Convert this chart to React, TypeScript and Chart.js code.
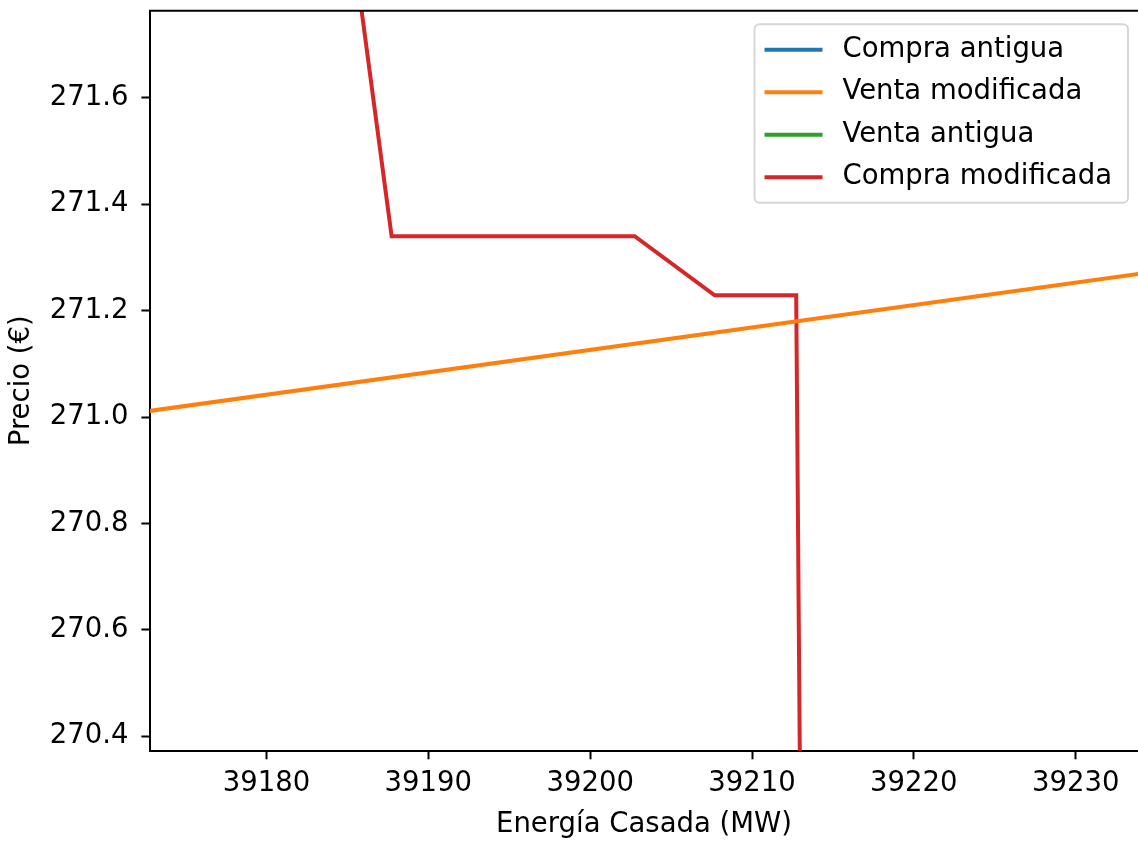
import React, { useEffect, useRef } from "react";
import { Chart, registerables } from "chart.js";

Chart.register(...registerables);

// ---- data ----
const seriesNames = ["Compra antigua", "Venta modificada", "Venta antigua", "Compra modificada"];
const seriesColors = ["#1f77b4", "#ff7f0e", "#2ca02c", "#d62728"];

const compraAntiguaX: number[] = [];
const compraAntiguaY: number[] = [];

const ventaModX = [39170, 39240];
const ventaModY = [271.0, 271.295];

const ventaAntiguaX: number[] = [];
const ventaAntiguaY: number[] = [];

const compraModX = [39185.28, 39187.73, 39202.75, 39207.69, 39212.73, 39212.97];
const compraModY = [271.9, 271.34, 271.34, 271.229, 271.229, 270.3];

const xTicks = [39180, 39190, 39200, 39210, 39220, 39230];
const yTicks = [270.4, 270.6, 270.8, 271.0, 271.2, 271.4, 271.6];

const xMin = 39172.8;
const xMax = 39233.85;
const yMin = 270.373;
const yMax = 271.764;

const xTitle = "Energía Casada (MW)";
const yTitle = "Precio (€)";

const FONT_FAMILY = '"DejaVu Sans", "Noto Sans", sans-serif';
const FONT_SIZE = 27.5;
const LINE_W = 4;

function toPoints(xs: number[], ys: number[]) {
  return xs.map((x, i) => ({ x, y: ys[i] }));
}

const framePlugin = {
  id: "mplFrame",
  afterDatasetsDraw(chart: any) {
    const { ctx, chartArea } = chart;
    ctx.save();
    ctx.strokeStyle = "#000";
    ctx.lineWidth = 2;
    ctx.beginPath();
    ctx.moveTo(chartArea.left - 1, chartArea.top);
    ctx.lineTo(chartArea.right + 2, chartArea.top);
    ctx.stroke();
    ctx.restore();
  },
};

const legendPlugin = {
  id: "mplLegend",
  afterDraw(chart: any) {
    const { ctx, chartArea } = chart;
    const datasets = chart.data.datasets;
    ctx.save();
    ctx.font = `${FONT_SIZE}px ${FONT_FAMILY}`;
    let textW = 0;
    datasets.forEach((d: any) => {
      textW = Math.max(textW, ctx.measureText(d.label).width);
    });
    const padL = 10;
    const handleLen = 58;
    const gap = 20;
    const padR = 16;
    const boxRight = chartArea.right - 10;
    const boxLeft = boxRight - padR - textW - gap - handleLen - padL;
    const boxTop = chartArea.top + 13.5;
    const rowH = 42.5;
    const firstRow = 25.5;
    const boxH = 178.5;
    const r = 5;
    ctx.beginPath();
    ctx.moveTo(boxLeft + r, boxTop);
    ctx.lineTo(boxRight - r, boxTop);
    ctx.arcTo(boxRight, boxTop, boxRight, boxTop + r, r);
    ctx.lineTo(boxRight, boxTop + boxH - r);
    ctx.arcTo(boxRight, boxTop + boxH, boxRight - r, boxTop + boxH, r);
    ctx.lineTo(boxLeft + r, boxTop + boxH);
    ctx.arcTo(boxLeft, boxTop + boxH, boxLeft, boxTop + boxH - r, r);
    ctx.lineTo(boxLeft, boxTop + r);
    ctx.arcTo(boxLeft, boxTop, boxLeft + r, boxTop, r);
    ctx.closePath();
    ctx.fillStyle = "rgba(255,255,255,0.8)";
    ctx.fill();
    ctx.strokeStyle = "#d6d6d6";
    ctx.lineWidth = 2;
    ctx.stroke();

    datasets.forEach((d: any, i: number) => {
      const cy = boxTop + firstRow + i * rowH;
      ctx.strokeStyle = d.borderColor;
      ctx.lineWidth = LINE_W;
      ctx.beginPath();
      ctx.moveTo(boxLeft + padL, cy);
      ctx.lineTo(boxLeft + padL + handleLen, cy);
      ctx.stroke();
      ctx.fillStyle = "#000";
      ctx.textAlign = "left";
      ctx.textBaseline = "middle";
      ctx.fillText(d.label, boxLeft + padL + handleLen + gap, cy);
    });
    ctx.restore();
  },
};

export default function App() {
  const canvasRef = useRef<HTMLCanvasElement | null>(null);

  useEffect(() => {
    if (!canvasRef.current) return;
    const font = { family: FONT_FAMILY, size: FONT_SIZE };
    const xs = [compraAntiguaX, ventaModX, ventaAntiguaX, compraModX];
    const ys = [compraAntiguaY, ventaModY, ventaAntiguaY, compraModY];
    const chart = new Chart(canvasRef.current, {
      type: "line",
      data: {
        datasets: seriesNames.map((name, i) => ({
          label: name,
          data: toPoints(xs[i], ys[i]),
          borderColor: seriesColors[i],
          backgroundColor: seriesColors[i],
          borderWidth: LINE_W,
          pointRadius: 0,
          tension: 0,
          fill: false,
          clip: 0,
        })),
      },
      options: {
        animation: false,
        responsive: false,
        layout: { padding: { top: 10.7, right: 0, bottom: 0, left: 0 } },
        plugins: {
          legend: { display: false },
          tooltip: { enabled: false },
        },
        scales: {
          x: {
            type: "linear",
            min: xMin,
            max: xMax,
            z: 1,
            afterBuildTicks: (s: any) => {
              s.ticks = xTicks.map((v) => ({ value: v }));
            },
            afterFit: (s: any) => {
              s.height = 90.3;
              s.paddingLeft = 0;
              s.paddingRight = 0;
            },
            grid: {
              drawOnChartArea: false,
              drawTicks: true,
              tickLength: 8.6,
              tickWidth: 2,
              tickColor: "#000",
            },
            border: { display: true, color: "#000", width: 2 },
            ticks: {
              color: "#000",
              font,
              padding: 7.8,
              maxRotation: 0,
              autoSkip: false,
              callback: (v: any) => String(v),
            },
            title: {
              display: true,
              text: xTitle,
              color: "#000",
              font,
              padding: { top: 0, bottom: 0 },
            },
          },
          y: {
            type: "linear",
            min: yMin,
            max: yMax,
            z: 1,
            afterBuildTicks: (s: any) => {
              s.ticks = yTicks.map((v) => ({ value: v }));
            },
            afterFit: (s: any) => {
              s.width = 150;
              s.paddingTop = 0;
              s.paddingBottom = 0;
            },
            grid: {
              drawOnChartArea: false,
              drawTicks: true,
              tickLength: 8.6,
              tickWidth: 2,
              tickColor: "#000",
            },
            border: { display: true, color: "#000", width: 2 },
            ticks: {
              color: "#000",
              font,
              padding: 13,
              autoSkip: false,
              callback: (v: any) => Number(v).toFixed(1),
            },
            title: {
              display: true,
              text: yTitle,
              color: "#000",
              font,
              padding: { top: 5, bottom: 0 },
            },
          },
        },
      },
      plugins: [framePlugin, legendPlugin],
    } as any);
    return () => chart.destroy();
  }, []);

  return (
    <div style={{ position: "absolute", left: 0, top: 0, width: 1138, height: 841, background: "#fff" }}>
      <canvas ref={canvasRef} width={1138} height={841} style={{ display: "block" }} />
    </div>
  );
}
